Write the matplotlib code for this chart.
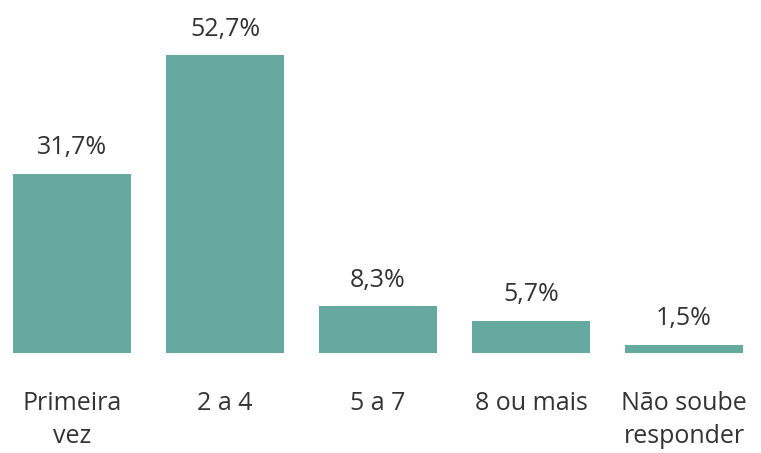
import matplotlib
matplotlib.use("Agg")
from matplotlib import pyplot as plt

categorias = ["Primeira\nvez", "2 a 4", "5 a 7", "8 ou mais", "Não soube\nresponder"]
valores = [31.7, 52.7, 8.3, 5.7, 1.5]
rotulos = ["31,7%", "52,7%", "8,3%", "5,7%", "1,5%"]

cor_barra = "#65a9a1"
cor_texto = "#333333"

plt.rcParams['font.family'] = ['Open Sans', 'DejaVu Sans']

fig = plt.figure(figsize=(7.61, 4.53), dpi=100)
ax = fig.add_axes([0, 0, 1, 1])

x = range(len(categorias))
barras = ax.bar(x, valores, width=0.77, color=cor_barra)

for b, txt in zip(barras, rotulos):
    ax.annotate(txt, (b.get_x() + b.get_width() / 2, b.get_height()),
                xytext=(0, 14), textcoords="offset points",
                ha="center", va="baseline", fontsize=18, color=cor_texto)

# rótulos das categorias abaixo da base
for i, c in enumerate(categorias):
    ax.annotate(c, (i, 0), xytext=(0, -27), textcoords="offset points",
                ha="center", va="top", fontsize=18, color=cor_texto,
                linespacing=1.45)

ax.set_xlim(-0.4706, 4.503)
ax.set_ylim(-17.68, 62.42)
ax.axis("off")

fig.savefig("out.png", dpi=100)
